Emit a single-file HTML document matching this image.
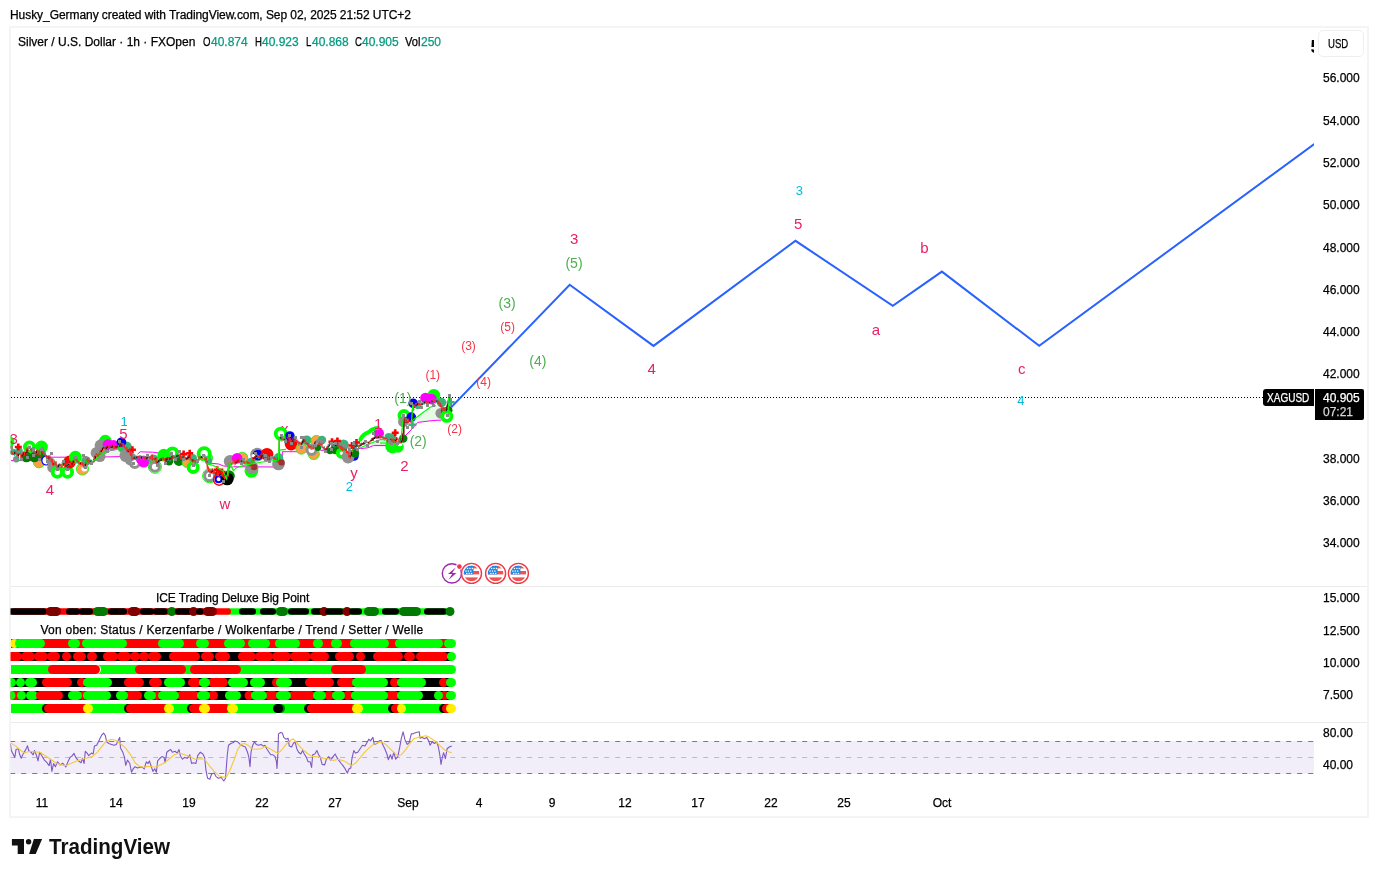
<!DOCTYPE html>
<html lang="en"><head><meta charset="utf-8"><title>Silver / U.S. Dollar chart</title>
<style>
html,body{margin:0;padding:0;background:#fff;}
body{width:1378px;height:877px;position:relative;overflow:hidden;font-family:"Liberation Sans", sans-serif;color:#000;}
.abs{position:absolute;white-space:nowrap;line-height:14px;font-size:12px;-webkit-text-stroke:0.25px currentColor;}
#frame{position:absolute;left:9px;top:26px;width:1360px;height:792px;box-sizing:border-box;border:2px solid #f4f4f4;}
.sep{position:absolute;left:11px;width:1356px;height:1px;background:#ececec;}
.ax{position:absolute;left:1323px;font-size:12px;line-height:14px;height:14px;color:#000;-webkit-text-stroke:0.25px #000;}
.tl{position:absolute;top:796.4px;width:60px;text-align:center;font-size:12px;line-height:14px;color:#000;-webkit-text-stroke:0.25px #000;}
.teal{color:#089981;}
svg{position:absolute;left:0;top:0;}
svg text{font-family:"Liberation Sans", sans-serif;}
</style></head><body>
<div class="abs" id="ttl" style="left:10px;top:7.6px;letter-spacing:-0.06px;">Husky_Germany created with TradingView.com, Sep 02, 2025 21:52 UTC+2</div>
<div id="frame"></div>
<div class="sep" style="top:586px"></div><div class="sep" style="top:722px"></div>
<div class="abs" id="leg" style="left:18px;top:34.7px;"><span id="l1">Silver / U.S. Dollar · 1h · FXOpen</span></div>
<div class="abs lg" style="left:203.0px;top:34.7px;transform:scaleX(0.8);transform-origin:0 0;">O</div><div class="abs lg teal" style="left:211.0px;top:34.7px;">40.874</div>
<div class="abs lg" style="left:254.5px;top:34.7px;transform:scaleX(0.8);transform-origin:0 0;">H</div><div class="abs lg teal" style="left:262.0px;top:34.7px;">40.923</div>
<div class="abs lg" style="left:305.5px;top:34.7px;transform:scaleX(0.8);transform-origin:0 0;">L</div><div class="abs lg teal" style="left:312.0px;top:34.7px;">40.868</div>
<div class="abs lg" style="left:354.5px;top:34.7px;transform:scaleX(0.8);transform-origin:0 0;">C</div><div class="abs lg teal" style="left:362.0px;top:34.7px;">40.905</div>
<div class="abs lg" style="left:404.5px;top:34.7px;transform:scaleX(0.93);transform-origin:0 0;">Vol</div><div class="abs lg teal" style="left:421.0px;top:34.7px;">250</div>
<div style="position:absolute;left:1318px;top:30px;width:46px;height:27px;box-sizing:border-box;border:1px solid #efefef;border-radius:5px;"></div>
<div class="abs" style="left:1327.5px;top:36.5px;transform:scaleX(.8);transform-origin:0 0;">USD</div>
<div style="position:absolute;left:1310.6px;top:36.4px;width:3.4px;height:22px;overflow:hidden;"><span style="font-size:18px;font-weight:bold;line-height:22px;color:#000;">5</span></div>
<div class="ax" style="top:71.4px">56.000</div>
<div class="ax" style="top:113.9px">54.000</div>
<div class="ax" style="top:156.4px">52.000</div>
<div class="ax" style="top:198.4px">50.000</div>
<div class="ax" style="top:240.9px">48.000</div>
<div class="ax" style="top:282.9px">46.000</div>
<div class="ax" style="top:325.4px">44.000</div>
<div class="ax" style="top:367.2px">42.000</div>
<div class="ax" style="top:452.4px">38.000</div>
<div class="ax" style="top:494.2px">36.000</div>
<div class="ax" style="top:535.9px">34.000</div>
<div class="ax" style="top:591.4px">15.000</div>
<div class="ax" style="top:623.9px">12.500</div>
<div class="ax" style="top:655.9px">10.000</div>
<div class="ax" style="top:687.9px">7.500</div>
<div class="ax" style="top:726.4px">80.00</div>
<div class="ax" style="top:758.4px">40.00</div>
<div class="tl" style="left:12px;">11</div>
<div class="tl" style="left:86px;">14</div>
<div class="tl" style="left:159px;">19</div>
<div class="tl" style="left:232px;">22</div>
<div class="tl" style="left:305px;">27</div>
<div class="tl" style="left:378px;">Sep</div>
<div class="tl" style="left:449px;">4</div>
<div class="tl" style="left:522px;">9</div>
<div class="tl" style="left:595px;">12</div>
<div class="tl" style="left:668px;">17</div>
<div class="tl" style="left:741px;">22</div>
<div class="tl" style="left:814px;">25</div>
<div class="tl" style="left:912px;">Oct</div>
<div class="abs" id="p1" style="letter-spacing:-0.08px;left:82.6px;width:300px;text-align:center;top:590.5px;">ICE Trading Deluxe Big Point</div>
<div class="abs" id="p2" style="letter-spacing:0.24px;left:32px;width:400px;text-align:center;top:622.5px;">Von oben: Status / Kerzenfarbe / Wolkenfarbe / Trend / Setter / Welle</div>
<div style="position:absolute;left:1263px;top:388.8px;width:51px;height:17px;background:#000;border-radius:3px 0 0 3px;"></div>
<div class="abs" id="sym" style="left:1267px;top:391px;color:#fff;transform:scaleX(.836);transform-origin:0 0;">XAGUSD</div>
<div style="position:absolute;left:1314.8px;top:388.8px;width:49.2px;height:31px;background:#000;border-radius:0 2px 2px 0;"></div>
<div class="abs" style="left:1323px;top:390.5px;color:#fff;">40.905</div>
<div class="abs" style="left:1323px;top:405px;color:#d8d8d8;">07:21</div>
<svg width="1378" height="877" viewBox="0 0 1378 877">
<defs><clipPath id="cp"><rect x="10.5" y="28" width="1303.5" height="790"/></clipPath></defs>
<g clip-path="url(#cp)">
<line x1="11" y1="397.5" x2="1264" y2="397.5" stroke="#000" stroke-width="1" stroke-dasharray="1 2"/>
<polygon points="98.5,461.0 104.0,457.0 119.7,456.6 121.0,455.0 121.0,448.7 112.0,450.0 103.0,453.5" fill="#e6fbe6"/>
<polygon points="225.0,466.6 274.0,467.0 278.5,460.0 262.0,462.0 244.0,465.4 236.5,467.7" fill="#e6fbe6"/>
<polygon points="360.4,448.6 368.0,447.8 373.3,445.6 387.1,445.6 387.1,439.8 381.0,439.4 376.4,441.0" fill="#e6fbe6"/>
<polygon points="411.7,429.3 417.8,422.4 433.1,420.5 441.5,420.1 441.0,408.0 436.0,405.6 430.0,407.2 411.7,420.9" fill="#e6fbe6"/>
<polygon points="206.5,463.6 223.3,471.3 226.4,478.9 229.6,462.4 230.0,466.7 218.8,464.0" fill="#e6fbe6"/>
<polyline points="11.0,460.6 48.0,460.6 50.0,457.2 66.0,457.2" fill="none" stroke="#ff00ff" stroke-width="1"/>
<polyline points="98.5,461.0 104.0,457.0 119.7,456.6 121.0,455.0" fill="none" stroke="#ff00ff" stroke-width="1"/>
<polyline points="137.5,454.2 140.2,451.8 152.5,452.2 159.0,453.0" fill="none" stroke="#ff00ff" stroke-width="1"/>
<polyline points="207.0,462.8 218.8,464.0 223.3,465.9 230.2,466.7 274.0,467.0 282.3,467.0 282.3,451.7 297.0,451.7" fill="none" stroke="#ff00ff" stroke-width="1"/>
<polyline points="320.6,450.5 345.8,447.8 360.4,448.6 368.0,447.8 373.3,445.6 387.1,445.6" fill="none" stroke="#ff00ff" stroke-width="1"/>
<polyline points="375.0,445.4 386.5,445.4" fill="none" stroke="#ff00ff" stroke-width="1"/>
<polyline points="405.6,435.4 411.7,429.3 417.8,422.4 433.1,420.5 441.5,420.1" fill="none" stroke="#ff00ff" stroke-width="1"/>
<text x="284.7" y="434" font-size="15" fill="#e91e63" text-anchor="middle">x</text>
<circle cx="8.0" cy="442.0" r="6.4" fill="#00ff00"/>
<circle cx="29.5" cy="447.0" r="4.6" fill="#fff" stroke="#00ff00" stroke-width="3.8"/>
<circle cx="41.5" cy="447.0" r="6.4" fill="#00ff00"/>
<circle cx="39.0" cy="462.3" r="5.6" fill="#ffa040" stroke="#00ff00" stroke-width="0.8"/>
<circle cx="26.5" cy="457.0" r="5.3" fill="#008000"/>
<circle cx="34.4" cy="457.0" r="5.3" fill="#008000"/>
<circle cx="41.0" cy="456.0" r="4.8" fill="#008000"/>
<circle cx="46.3" cy="460.6" r="4.4" fill="#fff" stroke="#0000ff" stroke-width="1.2"/>
<circle cx="52.5" cy="467.4" r="5.3" fill="#909090"/>
<circle cx="51.0" cy="462.0" r="4.2" fill="#909090"/>
<circle cx="57.3" cy="472.2" r="4.6" fill="#fff" stroke="#00ff00" stroke-width="3.8"/>
<circle cx="67.5" cy="472.2" r="4.6" fill="#fff" stroke="#00ff00" stroke-width="3.8"/>
<circle cx="69.6" cy="462.0" r="6.4" fill="#ff0000"/>
<circle cx="75.4" cy="457.2" r="6.4" fill="#00ff00"/>
<circle cx="82.5" cy="469.0" r="6.1" fill="#ffa040" stroke="#00ff00" stroke-width="0.8"/>
<circle cx="84.4" cy="468.6" r="3.0" fill="#ffffff"/>
<circle cx="16.2" cy="459.2" r="3.2" fill="#3cb27a"/>
<circle cx="19.0" cy="451.0" r="3.7" fill="#3cb27a"/>
<circle cx="13.0" cy="452.0" r="3.2" fill="#3cb27a"/>
<circle cx="86.0" cy="461.0" r="4.8" fill="#3cb27a"/>
<circle cx="105.3" cy="441.2" r="6.4" fill="#00ff00"/>
<circle cx="96.4" cy="452.9" r="5.8" fill="#909090"/>
<circle cx="99.8" cy="456.3" r="5.8" fill="#909090"/>
<circle cx="100.5" cy="445.3" r="5.8" fill="#909090"/>
<circle cx="103.3" cy="448.7" r="5.8" fill="#909090"/>
<circle cx="108.0" cy="444.6" r="5.3" fill="#ff00ff"/>
<circle cx="113.5" cy="445.3" r="5.3" fill="#ff00ff"/>
<circle cx="126.5" cy="446.7" r="5.3" fill="#3cb27a"/>
<circle cx="121.7" cy="448.0" r="4.2" fill="#3cb27a"/>
<circle cx="121.4" cy="442.2" r="4.8" fill="#0000ff"/>
<circle cx="125.9" cy="455.6" r="6.4" fill="#909090"/>
<circle cx="130.6" cy="459.0" r="6.4" fill="#909090"/>
<circle cx="134.8" cy="463.1" r="4.5" fill="#fff" stroke="#909090" stroke-width="3"/>
<circle cx="143.7" cy="461.8" r="5.8" fill="#ff00ff"/>
<circle cx="140.2" cy="459.7" r="4.2" fill="#ff00ff"/>
<circle cx="153.6" cy="459.7" r="5.3" fill="#3cb27a"/>
<circle cx="154.9" cy="466.8" r="4.5" fill="#fff" stroke="#909090" stroke-width="3"/>
<circle cx="154.9" cy="466.8" r="6.5" fill="none" stroke="#00ff00" stroke-width="1"/>
<circle cx="163.8" cy="455.2" r="6.4" fill="#00ff00"/>
<circle cx="172.5" cy="452.9" r="4.6" fill="#fff" stroke="#00ff00" stroke-width="3.8"/>
<circle cx="169.1" cy="461.3" r="4.2" fill="#008000"/>
<circle cx="179.0" cy="460.6" r="5.3" fill="#008000"/>
<circle cx="186.7" cy="462.8" r="4.6" fill="#ffa040" stroke="#00ff00" stroke-width="0.8"/>
<circle cx="192.8" cy="458.3" r="4.2" fill="#3cb27a"/>
<circle cx="193.2" cy="467.4" r="4.6" fill="#fff" stroke="#00ff00" stroke-width="3.8"/>
<circle cx="208.5" cy="458.0" r="4.1" fill="#ffa040" stroke="#00ff00" stroke-width="0.8"/>
<circle cx="208.5" cy="461.0" r="3.7" fill="#3cb27a"/>
<circle cx="204.2" cy="453.7" r="5.6" fill="#fff" stroke="#00ff00" stroke-width="3.8"/>
<circle cx="209.6" cy="475.8" r="5.0" fill="#fff" stroke="#909090" stroke-width="3"/>
<circle cx="209.6" cy="475.8" r="7.0" fill="none" stroke="#00ff00" stroke-width="1"/>
<circle cx="220.3" cy="475.0" r="5.3" fill="#ff0000"/>
<circle cx="219.1" cy="479.7" r="5.5" fill="#fff" stroke="#ff0000" stroke-width="1.5"/>
<circle cx="218.6" cy="479.2" r="3.0" fill="#fff" stroke="#0000ff" stroke-width="2"/>
<circle cx="229.0" cy="476.0" r="5.8" fill="#008000"/>
<circle cx="227.2" cy="478.9" r="6.4" fill="#000000"/>
<circle cx="242.2" cy="457.8" r="5.6" fill="#ffa040" stroke="#00ff00" stroke-width="0.8"/>
<circle cx="230.2" cy="461.3" r="6.4" fill="#909090"/>
<circle cx="232.5" cy="464.0" r="2.5" fill="#ffffff"/>
<circle cx="237.1" cy="458.3" r="5.3" fill="#ff00ff"/>
<circle cx="251.4" cy="470.8" r="6.9" fill="#00ff00"/>
<circle cx="252.1" cy="467.7" r="6.4" fill="#909090"/>
<circle cx="251.0" cy="462.0" r="4.2" fill="#3cb27a"/>
<circle cx="254.0" cy="467.0" r="3.2" fill="#a03030"/>
<circle cx="257.1" cy="454.7" r="6.9" fill="#909090"/>
<circle cx="258.0" cy="455.0" r="5.3" fill="#0000ff"/>
<circle cx="253.5" cy="456.0" r="2.0" fill="#ffffff"/>
<circle cx="267.0" cy="454.3" r="6.4" fill="#ff0000"/>
<circle cx="278.5" cy="463.9" r="6.4" fill="#909090"/>
<circle cx="278.5" cy="457.8" r="4.8" fill="#3cb27a"/>
<circle cx="281.5" cy="462.4" r="3.2" fill="#a03030"/>
<circle cx="280.8" cy="433.7" r="5.1" fill="#fff" stroke="#00ff00" stroke-width="3.8"/>
<circle cx="291.1" cy="444.0" r="6.4" fill="#ff0000"/>
<circle cx="289.9" cy="436.0" r="4.8" fill="#0000ff"/>
<circle cx="301.4" cy="448.6" r="5.6" fill="#ffa040" stroke="#00ff00" stroke-width="0.8"/>
<circle cx="306.7" cy="440.2" r="4.8" fill="#3cb27a"/>
<circle cx="316.4" cy="441.0" r="5.6" fill="#ffa040" stroke="#00ff00" stroke-width="0.8"/>
<circle cx="313.8" cy="454.0" r="5.6" fill="#ffa040" stroke="#00ff00" stroke-width="0.8"/>
<circle cx="311.5" cy="450.1" r="4.5" fill="#fff" stroke="#909090" stroke-width="3"/>
<circle cx="322.0" cy="440.0" r="4.2" fill="#3cb27a"/>
<circle cx="318.0" cy="447.8" r="3.2" fill="#008000"/>
<circle cx="335.0" cy="449.4" r="4.8" fill="#008000"/>
<circle cx="330.0" cy="451.0" r="3.2" fill="#008000"/>
<circle cx="343.5" cy="444.8" r="5.3" fill="#3cb27a"/>
<circle cx="341.3" cy="453.2" r="3.6" fill="#fff" stroke="#00ff00" stroke-width="3.8"/>
<circle cx="354.0" cy="456.0" r="4.8" fill="#0000ff"/>
<circle cx="348.1" cy="457.0" r="6.4" fill="#909090"/>
<circle cx="355.0" cy="453.2" r="4.2" fill="#008000"/>
<circle cx="378.7" cy="433.3" r="5.3" fill="#ff00ff"/>
<circle cx="392.6" cy="446.1" r="7.4" fill="#00ff00"/>
<circle cx="398.0" cy="447.0" r="5.8" fill="#00ff00"/>
<circle cx="400.0" cy="443.8" r="2.5" fill="#ffffff"/>
<circle cx="388.6" cy="437.2" r="4.2" fill="#3cb27a"/>
<circle cx="392.0" cy="437.7" r="4.2" fill="#3cb27a"/>
<circle cx="403.3" cy="438.5" r="4.2" fill="#008000"/>
<circle cx="404.0" cy="415.6" r="4.6" fill="#fff" stroke="#00ff00" stroke-width="3.8"/>
<circle cx="403.3" cy="421.7" r="5.3" fill="#909090"/>
<circle cx="406.0" cy="420.0" r="3.2" fill="#a03030"/>
<circle cx="411.3" cy="417.1" r="4.8" fill="#0000ff"/>
<circle cx="413.2" cy="403.3" r="4.8" fill="#0000ff"/>
<circle cx="433.8" cy="395.3" r="6.4" fill="#00ff00"/>
<circle cx="425.4" cy="398.0" r="5.3" fill="#ff00ff"/>
<circle cx="431.5" cy="399.1" r="5.3" fill="#ff00ff"/>
<circle cx="441.5" cy="402.6" r="4.8" fill="#3cb27a"/>
<circle cx="418.0" cy="406.0" r="3.2" fill="#3cb27a"/>
<circle cx="440.7" cy="413.3" r="5.3" fill="#909090"/>
<circle cx="444.0" cy="411.0" r="3.2" fill="#a03030"/>
<circle cx="448.3" cy="410.2" r="4.2" fill="#008000"/>
<circle cx="446.8" cy="416.3" r="4.6" fill="#fff" stroke="#00ff00" stroke-width="3.8"/>
<path d="M360.4 439.5 Q363 434 369 432 Q373 428 378 428" fill="none" stroke="#00ff00" stroke-width="4" stroke-linecap="round"/>
<path d="M14.8 447.0h7M18.3 443.5v7" stroke="#ff0000" stroke-width="2.6"/>
<path d="M128.9 449.8h7M132.4 446.3v7" stroke="#ff0000" stroke-width="2.6"/>
<path d="M180.1 454.1h7M183.6 450.6v7" stroke="#ff0000" stroke-width="2.6"/>
<path d="M186.2 453.3h7M189.7 449.8v7" stroke="#ff0000" stroke-width="2.6"/>
<path d="M213.7 469.7h7M217.2 466.2v7" stroke="#ff0000" stroke-width="2.6"/>
<path d="M328.5 441.7h7M332.0 438.2v7" stroke="#ff0000" stroke-width="2.6"/>
<path d="M333.9 441.0h7M337.4 437.5v7" stroke="#ff0000" stroke-width="2.6"/>
<path d="M353.0 442.5h7M356.5 439.0v7" stroke="#ff0000" stroke-width="2.6"/>
<path d="M348.5 445.5h7M352.0 442.0v7" stroke="#ff0000" stroke-width="2.6"/>
<path d="M391.7 432.7h7M395.2 429.2v7" stroke="#ff0000" stroke-width="2.6"/>
<path d="M218.5 472.0h7M222.0 468.5v7" stroke="#ff0000" stroke-width="2.6"/>
<path d="M11.0 451.0V454.0M14.7 449.7V456.1M15.9 451.2V455.2M17.1 452.7V456.9M19.5 453.0V454.6M25.6 452.6V454.6M34.2 447.0V452.9M37.8 449.3V454.1M43.9 449.4V454.9M45.2 451.4V456.8M46.4 454.8V459.8M47.6 456.3V459.4M51.3 457.1V463.0M56.1 461.1V466.4M57.4 464.4V468.8M58.6 463.8V469.3M65.9 465.1V468.4M67.1 463.4V466.6M68.3 462.7V465.4M76.9 457.8V463.3M79.3 461.6V464.7M90.3 459.8V463.5M92.7 461.0V463.5M101.3 447.9V453.9M103.7 446.7V448.3M104.9 445.7V449.9M107.4 445.3V447.8M108.6 445.8V448.1M111.0 446.0V449.4M119.6 443.2V446.3M123.2 443.0V447.0M126.9 446.2V453.0M131.8 451.9V460.0M133.0 457.5V460.5M134.2 455.9V459.0M136.7 455.5V460.3M137.9 456.0V458.6M140.3 455.4V459.8M141.5 456.2V459.3M142.8 455.7V458.0M144.0 455.5V460.3M147.6 456.2V458.1M148.9 455.7V458.1M153.7 458.5V460.3M157.4 460.6V463.3M158.6 460.2V463.6M159.8 458.1V462.2M163.5 457.2V460.5M167.2 457.7V460.6M168.4 457.7V460.4M170.8 455.6V461.2M174.5 456.3V459.5M176.9 454.2V458.3M178.1 454.8V457.7M181.8 455.9V459.6M183.0 455.5V459.1M185.5 456.7V459.8M191.6 457.9V461.7M194.0 458.6V462.0M195.2 460.0V463.9M197.7 459.0V461.8M201.3 456.2V458.5M206.2 456.0V462.1M219.6 474.2V477.6M220.8 473.6V475.7M226.9 475.6V479.3M235.5 462.0V464.6M240.4 459.6V463.8M241.6 460.2V462.3M247.7 461.8V464.5M251.3 462.5V467.6M258.7 454.9V459.0M262.3 454.1V456.4M263.5 453.1V456.5M267.2 455.5V458.5M268.4 456.5V459.5M273.3 456.6V459.9M274.5 456.4V459.7M277.0 458.7V463.0M280.6 435.2V439.8M281.8 435.2V441.5M284.3 438.6V440.5M291.6 440.3V443.4M294.0 436.6V441.4M295.3 436.6V441.5M297.7 439.5V443.6M298.9 441.1V445.9M301.4 441.3V445.5M302.6 440.3V444.8M305.0 438.5V442.5M306.2 441.0V445.6M309.9 444.0V448.9M314.8 441.2V448.1M316.0 440.5V443.2M319.7 441.2V444.5M320.9 442.0V446.8M323.3 446.6V449.8M324.5 446.3V450.0M328.2 443.8V448.5M330.6 441.4V445.1M333.1 443.4V447.1M334.3 444.6V447.2M335.5 444.2V447.2M338.0 442.6V447.4M339.2 445.4V447.1M344.1 446.9V450.5M345.3 448.0V451.3M353.8 446.7V449.8M355.0 444.0V449.2M356.3 444.3V448.0M359.9 443.6V447.8M361.1 442.5V446.1M363.6 441.7V444.8M364.8 440.6V444.7M368.5 441.5V444.6M370.9 439.6V442.3M377.0 435.9V439.0M378.2 434.6V438.5M381.9 435.5V437.9M383.1 435.4V440.1M384.3 437.6V440.7M399.0 438.5V443.9M400.2 440.4V443.6M401.4 439.1V443.6M405.1 417.7V422.1M406.3 418.1V421.2M409.9 420.1V421.7M416.0 402.9V407.1M420.9 402.4V406.5M422.1 401.9V405.5M424.6 400.5V404.6M427.0 401.8V404.5M429.5 399.5V403.8M430.7 401.0V402.2M431.9 399.1V403.2M434.3 398.5V401.8M435.6 398.8V403.6M436.8 399.2V402.6M442.9 407.0V410.4M445.3 408.1V412.2M446.5 405.3V411.7M449.0 396.6V402.5" stroke="#26a69a" stroke-width="1.05" fill="none"/>
<path d="M11.0 451.4V452.6M12.2 451.5V454.3M12.2 452.0V453.8M13.4 453.3V455.1M13.4 453.2V454.7M15.9 451.7V453.2M17.1 453.2V455.9M18.3 453.5V457.9M19.5 453.4V454.7M20.8 453.1V458.0M20.8 454.1V456.5M22.0 454.1V458.0M23.2 451.3V455.1M24.4 451.3V455.6M24.4 452.3V454.1M26.9 447.4V455.1M28.1 445.4V451.4M29.3 445.8V448.4M30.5 445.8V450.3M30.5 446.8V449.8M31.7 447.8V451.8M31.7 449.2V450.9M33.0 447.5V450.8M34.2 449.0V451.9M35.4 450.9V455.2M35.4 451.9V453.2M36.6 450.3V454.7M37.8 450.8V452.1M39.1 450.1V455.3M39.1 452.1V454.8M40.3 449.0V456.8M41.5 448.5V451.0M42.7 447.5V453.4M42.7 449.0V451.4M43.9 451.4V453.4M45.2 453.4V455.3M46.4 455.3V457.8M47.6 457.2V459.0M48.8 455.2V460.4M50.0 455.2V459.6M50.0 457.2V459.1M51.3 459.1V461.5M52.5 459.5V465.5M52.5 461.5V464.0M53.7 462.5V466.0M54.9 461.1V464.5M56.1 462.1V465.4M57.4 465.4V467.3M59.8 463.3V465.8M61.0 464.3V468.0M61.0 464.2V466.6M62.2 462.1V468.0M63.5 463.4V466.1M64.7 463.4V467.4M64.7 463.9V466.4M69.6 463.1V464.2M70.8 461.6V465.8M70.8 463.6V464.8M72.0 461.5V466.3M73.2 460.2V465.0M74.4 456.8V462.7M75.7 458.3V460.3M75.7 458.2V459.9M76.9 459.3V461.8M78.1 460.8V463.6M78.1 461.8V463.1M79.3 462.5V464.3M80.5 462.0V465.2M81.8 462.0V465.0M81.8 461.9V464.1M83.0 462.5V467.5M83.0 463.5V466.0M84.2 464.5V468.2M84.2 466.0V467.2M85.4 462.8V468.2M86.6 458.3V464.8M87.9 457.8V462.2M87.9 459.3V461.7M89.1 460.0V463.7M91.5 459.8V464.0M91.5 461.3V462.5M94.0 457.6V462.5M95.2 455.6V461.1M96.4 452.9V456.6M97.6 453.9V457.6M97.6 454.4V455.6M98.8 453.3V457.6M100.1 449.9V455.8M102.5 447.3V450.9M104.9 447.7V448.9M106.2 445.3V450.4M108.6 445.7V447.7M109.8 446.1V448.9M109.8 446.5V448.5M112.3 444.6V448.5M113.5 445.1V447.0M113.5 445.5V447.1M114.7 445.0V448.9M114.7 445.9V447.5M115.9 444.7V447.9M117.1 445.8V448.7M118.4 445.3V447.3M120.8 441.9V447.2M122.0 442.9V445.0M122.0 442.8V445.1M123.2 444.5V446.5M124.5 444.5V448.3M124.5 446.5V447.8M125.7 446.7V449.8M126.9 447.2V451.5M128.1 448.9V452.5M129.3 449.4V452.7M129.3 450.3V452.3M130.6 450.7V455.9M130.6 451.7V453.9M131.8 453.9V458.5M133.0 457.9V459.1M135.4 456.4V459.8M135.4 456.8V458.9M137.9 455.9V457.2M139.1 455.6V458.4M139.1 456.0V458.0M140.3 456.8V458.4M142.8 456.6V458.1M144.0 456.9V458.9M145.2 456.3V460.3M145.2 457.7V459.4M146.4 456.1V459.3M148.9 456.6V458.2M150.1 456.6V459.3M150.1 457.0V458.4M151.3 454.6V459.3M152.5 454.6V460.5M152.5 456.6V459.0M153.7 458.4V459.9M155.0 457.5V460.8M156.2 457.5V464.3M156.2 458.0V462.8M161.1 458.4V461.1M162.3 457.2V460.4M163.5 457.6V459.6M164.7 458.0V461.3M164.7 458.4V460.4M165.9 458.1V461.3M168.4 458.2V459.4M169.6 458.2V461.4M172.0 454.0V459.1M173.3 455.0V458.8M173.3 456.0V457.3M174.5 456.7V458.1M175.7 455.8V458.5M179.4 453.8V456.5M179.4 454.7V456.1M180.6 455.0V459.4M180.6 455.5V457.4M181.8 456.8V458.2M184.2 455.5V459.2M184.2 457.0V458.2M185.5 457.6V459.4M186.7 457.7V460.3M187.9 455.1V459.7M189.1 455.1V458.1M190.3 455.6V458.9M190.3 456.1V458.4M191.6 458.4V460.7M192.8 459.6V462.7M194.0 459.5V461.6M195.2 460.4V462.5M196.4 459.3V462.9M198.9 456.2V461.0M200.1 457.0V459.2M202.5 455.0V458.7M203.8 455.0V456.3M203.8 454.9V456.4M205.0 454.8V460.0M205.0 455.8V458.0M206.2 458.0V461.6M207.4 461.1V469.1M207.4 461.6V468.6M208.6 466.6V472.0M208.6 468.6V470.5M209.9 469.0V473.7M209.9 470.5V472.7M211.1 470.4V473.7M212.3 468.3V473.4M213.5 469.8V473.8M213.5 470.3V471.8M214.7 470.3V474.1M214.7 471.8V473.6M216.0 472.0V474.1M217.2 471.5V476.3M217.2 473.0V474.8M218.4 473.3V476.6M218.4 474.2V476.2M222.1 472.6V476.6M222.1 473.5V475.7M223.3 473.1V477.4M223.3 475.1V476.9M224.5 475.9V479.5M224.5 476.3V478.6M225.7 475.3V478.5M228.2 466.9V477.1M229.4 462.2V469.4M230.6 462.2V465.3M230.6 462.6V464.4M231.8 462.2V465.3M233.0 460.5V464.2M234.3 460.0V464.6M234.3 461.4V463.2M236.7 459.3V464.0M237.9 458.1V462.8M239.1 459.6V462.6M239.1 459.5V461.7M240.4 460.5V462.4M242.8 459.7V463.0M242.8 460.6V462.1M244.0 459.5V464.3M244.0 460.9V462.9M245.2 461.8V464.4M245.2 461.7V463.5M246.5 460.8V463.4M247.7 461.7V463.6M248.9 462.0V465.8M248.9 463.0V464.8M250.1 462.8V467.1M250.1 464.2V466.2M252.6 456.9V465.0M253.8 457.1V460.9M255.0 456.0V459.1M256.2 454.2V458.0M257.4 453.7V457.9M257.4 455.2V456.4M258.7 455.8V457.6M259.9 455.5V459.0M259.9 456.4V457.6M261.1 453.9V457.5M263.5 454.5V456.1M264.8 454.0V457.9M264.8 454.9V456.5M266.0 454.9V458.0M266.0 455.3V457.6M267.2 456.4V458.6M268.4 457.4V458.6M269.6 457.0V458.5M269.6 457.4V458.6M270.9 455.6V460.0M272.1 456.1V459.6M273.3 456.5V458.5M274.5 457.3V459.3M275.7 457.7V460.2M275.7 458.1V460.3M277.0 459.7V461.0M278.2 456.5V463.0M279.4 437.3V459.5M281.8 437.2V439.5M283.1 438.5V440.5M283.1 438.9V440.6M285.5 435.7V440.1M286.7 436.9V438.2M287.9 436.4V438.5M287.9 436.8V438.6M289.2 436.5V441.3M289.2 438.0V440.3M290.4 438.3V442.9M290.4 440.3V442.4M292.8 438.4V442.3M295.3 438.1V440.5M296.5 439.5V442.5M296.5 439.9V442.1M297.7 440.9V442.7M298.9 442.1V443.9M300.1 441.9V444.5M300.1 443.3V444.6M303.8 438.5V442.8M305.0 440.0V442.0M306.2 442.0V444.1M307.5 443.1V445.7M307.5 443.5V445.3M308.7 443.2V447.5M308.7 444.7V446.0M309.9 446.0V447.9M311.1 445.4V449.9M312.3 446.9V449.0M312.3 446.8V448.6M313.6 445.6V449.0M317.2 439.5V441.8M317.2 440.4V441.9M318.4 440.3V444.7M318.4 441.3V443.2M319.7 442.6V444.6M320.9 444.0V445.3M322.1 443.3V448.1M322.1 445.3V447.1M323.3 447.1V448.3M324.5 448.3V449.5M325.8 448.2V451.5M327.0 446.0V451.2M329.4 442.6V446.8M331.9 442.4V445.9M331.9 442.8V444.5M333.1 443.9V445.1M334.3 444.5V446.3M336.7 442.6V445.2M338.0 444.1V445.9M339.2 445.3V447.2M340.4 446.1V449.4M340.4 446.0V448.0M341.6 445.4V450.3M341.6 446.8V448.9M342.8 446.3V450.9M342.8 447.7V449.5M344.1 448.3V450.1M345.3 448.9V450.9M346.5 448.8V453.0M346.5 450.3V451.5M347.7 451.0V453.7M347.7 451.5V452.7M348.9 451.7V457.8M348.9 452.7V456.8M350.2 455.0V458.8M351.4 450.4V456.5M352.6 448.3V452.4M357.5 444.3V447.0M357.5 445.3V446.5M358.7 444.8V448.0M362.4 442.8V445.0M366.0 441.0V443.1M367.2 441.5V443.1M367.2 441.4V443.2M369.7 440.8V444.0M372.1 437.9V440.6M373.3 437.3V440.9M374.6 436.9V438.8M375.8 435.9V438.4M377.0 436.8V438.6M379.4 435.1V437.2M379.4 435.5V437.3M380.7 434.7V438.5M380.7 436.1V437.6M381.9 436.4V438.0M383.1 436.8V438.7M384.3 437.5V439.3M385.5 437.7V440.0M385.5 438.1V440.1M386.8 437.5V442.3M386.8 439.5V440.8M388.0 439.3V443.5M388.0 440.8V442.0M389.2 440.3V443.5M390.4 438.5V442.8M391.6 438.5V441.6M391.6 439.4V441.2M392.9 438.6V442.9M392.9 440.6V441.9M394.1 438.9V442.9M395.3 439.2V442.9M396.5 437.0V441.7M397.7 437.5V440.0M397.7 437.9V440.1M399.0 439.5V441.9M400.2 441.3V443.2M402.6 433.3V441.1M403.8 417.2V435.3M405.1 418.2V420.1M406.3 419.5V421.3M407.5 418.5V421.7M408.7 418.5V423.2M408.7 419.5V421.2M411.2 420.1V423.6M411.2 420.5V422.2M412.4 409.2V422.6M413.6 404.2V410.7M414.8 404.7V407.1M414.8 404.6V406.2M417.3 401.5V405.9M418.5 401.5V405.0M418.5 402.4V403.6M419.7 402.0V404.9M419.7 403.0V404.4M420.9 403.8V405.1M423.4 400.6V404.4M425.8 400.0V403.3M425.8 401.4V403.4M427.0 402.2V404.6M428.2 401.3V404.5M430.7 400.9V402.3M433.1 399.0V402.1M434.3 399.4V400.9M435.6 400.3V401.6M438.0 400.2V404.0M438.0 401.2V402.5M439.2 401.5V405.2M439.2 402.5V404.2M440.4 402.7V407.2M440.4 404.2V405.7M441.7 404.7V409.0M441.7 405.7V407.5M442.9 407.5V408.9M444.1 406.9V410.6M444.1 408.9V410.1M445.3 409.5V411.3M447.8 400.5V408.8M450.2 395.6V401.3M450.2 397.1V399.8M451.4 398.3V407.5M451.4 399.8V407.0" stroke="#ff1f1f" stroke-width="1.05" fill="none"/>
<path d="M28.1 447.4V449.4M40.3 450.5V454.8M54.9 462.1V464.0M62.2 464.1V466.0M69.6 463.0V464.3M74.4 458.8V460.7M86.6 459.3V463.8M89.1 460.9V462.3M96.4 454.4V456.1M98.8 454.3V455.6M100.1 451.9V454.3M118.4 445.2V446.9M125.7 446.6V448.4M151.3 456.6V457.8M162.3 457.6V459.5M175.7 456.3V457.5M196.4 460.7V462.5M198.9 458.2V460.0M200.1 456.9V458.8M225.7 476.7V478.6M228.2 468.9V476.1M229.4 463.2V468.9M231.8 462.6V464.4M233.0 461.4V463.8M246.5 461.7V463.5M252.6 458.9V464.0M279.4 437.8V458.5M285.5 437.7V439.6M311.1 446.8V448.5M313.6 446.1V448.0M352.6 448.8V451.9M358.7 445.7V447.1M366.0 441.4V443.2M369.7 441.3V442.5M394.1 440.3V442.5M407.5 419.5V420.7M413.6 405.2V410.2M423.4 402.6V403.9M428.2 402.8V404.0M433.1 399.4V401.7" stroke="#00e000" stroke-width="1.05" fill="none"/>
<path d="M14.7 451.7V454.1M18.3 454.0V455.9M22.0 454.6V456.5M23.2 452.3V454.6M25.6 452.5V454.7M26.9 449.4V453.1M29.3 446.1V448.0M33.0 449.0V450.3M36.6 450.8V453.2M41.5 449.0V450.5M48.8 457.2V458.4M53.7 463.4V464.6M58.6 464.8V467.3M59.8 464.2V465.4M63.5 463.3V464.7M65.9 465.5V467.0M67.1 464.9V466.1M68.3 463.7V464.9M72.0 463.0V464.8M73.2 460.7V463.0M80.5 462.5V463.7M85.4 463.8V467.2M90.3 460.7V462.1M92.7 460.9V463.1M94.0 459.1V461.5M95.2 456.1V459.1M101.3 449.9V451.9M102.5 447.8V449.9M103.7 447.1V448.4M106.2 447.3V448.9M107.4 445.7V447.9M111.0 446.4V448.5M112.3 445.5V447.6M115.9 446.1V447.5M117.1 445.7V447.3M119.6 444.6V446.4M120.8 443.4V445.2M128.1 450.3V452.1M134.2 456.8V459.1M136.7 456.5V458.3M141.5 456.6V458.4M146.4 457.6V458.8M147.6 456.6V458.2M155.0 458.0V459.3M157.4 461.6V462.8M158.6 460.1V462.2M159.8 459.5V461.3M161.1 458.3V460.7M165.9 458.5V460.4M167.2 457.6V459.7M169.6 458.6V460.0M170.8 457.6V459.2M172.0 456.0V457.6M176.9 455.1V456.9M178.1 454.7V456.3M183.0 456.4V458.2M186.7 457.6V459.4M187.9 456.5V458.8M189.1 455.5V457.7M192.8 459.5V461.3M197.7 460.0V461.3M201.3 456.1V458.1M202.5 455.5V456.7M211.1 471.4V472.7M212.3 469.7V472.0M216.0 472.4V474.2M219.6 474.1V476.2M220.8 473.5V475.3M226.9 476.1V477.3M235.5 461.9V463.2M236.7 461.3V462.5M237.9 460.1V461.3M241.6 460.6V462.4M251.3 464.0V465.6M253.8 457.6V458.9M255.0 456.4V458.2M256.2 455.2V457.0M261.1 455.3V457.6M262.3 454.5V456.5M270.9 457.0V458.6M272.1 456.5V458.2M278.2 458.5V461.0M280.6 436.6V438.4M284.3 439.0V440.6M286.7 436.8V438.3M291.6 441.2V443.0M292.8 439.4V441.8M294.0 438.1V439.4M301.4 442.7V444.6M302.6 440.8V443.3M303.8 439.4V441.4M314.8 442.2V446.1M316.0 441.0V442.2M325.8 448.6V450.1M327.0 447.5V449.2M328.2 445.8V447.5M329.4 444.6V445.8M330.6 443.4V444.6M335.5 444.1V446.3M336.7 443.5V445.3M350.2 455.5V456.8M351.4 451.9V455.5M353.8 447.2V448.8M355.0 446.0V447.2M356.3 444.7V446.6M359.9 445.1V446.3M361.1 443.4V445.7M362.4 443.2V444.6M363.6 442.6V444.4M364.8 442.0V443.8M368.5 441.9V443.2M370.9 440.1V441.3M372.1 438.3V440.7M373.3 437.7V439.5M374.6 436.8V438.9M375.8 436.8V438.0M378.2 436.1V438.0M389.2 440.2V442.6M390.4 439.4V441.4M395.3 439.7V440.9M396.5 438.5V439.7M401.4 440.6V442.6M402.6 433.8V440.6M403.8 418.2V433.8M409.9 420.5V421.8M412.4 410.2V421.6M416.0 404.3V406.2M417.3 403.0V404.9M422.1 403.3V405.1M424.6 401.4V403.2M429.5 401.5V402.8M431.9 400.5V402.3M436.8 400.6V402.2M446.5 406.8V410.7M447.8 401.0V406.8M449.0 397.1V401.0" stroke="#000000" stroke-width="1.05" fill="none"/>
<polyline points="11.0,452.0 13.0,455.0 15.0,451.0 17.0,456.0 19.0,453.0 21.0,457.0 23.0,452.0 25.0,455.0 27.0,449.0 29.0,446.0 31.0,451.0 33.0,449.0 35.0,454.0 37.0,450.0 39.0,455.0 41.0,448.0 43.0,452.0 45.0,455.0 47.0,459.0 49.0,457.0 51.0,461.0 53.0,465.0 55.0,462.0 57.0,468.0 59.0,464.0 61.0,466.0 63.0,463.0 65.0,467.0 67.0,465.0 69.0,463.0 71.0,465.0 73.0,461.0 75.0,458.0 77.0,462.0 79.0,464.0 81.0,462.0 83.0,466.0 85.0,468.0 86.0,458.0 88.0,462.0 90.0,461.0 92.0,463.0 94.0,459.0 96.0,454.0 98.0,456.0 100.0,452.0 103.0,447.0 105.0,449.0 107.0,446.0 110.0,448.0 112.0,446.0 115.0,447.0 118.0,446.0 120.0,445.0 121.0,443.0 123.0,446.0 124.0,448.0 126.0,447.0 127.0,452.0 129.0,450.0 130.0,455.0 131.0,453.0 132.0,460.0 134.0,457.0 135.0,459.0 137.0,456.0 140.0,458.0 142.0,457.0 145.0,459.0 147.0,457.0 150.0,458.0 151.0,456.0 153.0,460.0 155.0,458.0 156.0,463.0 158.0,461.0 160.0,460.0 162.0,458.0 165.0,460.0 167.0,458.0 169.0,460.0 172.0,456.0 174.0,458.0 176.0,456.0 179.0,455.0 181.0,458.0 183.0,457.0 185.0,459.0 187.0,458.0 189.0,456.0 190.0,457.0 191.0,461.0 193.0,460.0 195.0,462.0 197.0,461.0 199.0,458.0 201.0,457.0 203.0,455.0 204.0,456.0 206.0,460.0 207.0,468.0 209.0,471.0 210.0,473.0 212.0,470.0 213.0,471.0 215.0,474.0 216.0,473.0 218.0,476.0 219.0,475.0 221.0,474.0 222.0,475.0 224.0,478.0 225.0,478.0 227.0,476.0 228.0,470.0 229.0,463.0 231.0,464.0 233.0,462.0 235.0,463.0 237.0,461.0 238.0,460.0 240.0,462.0 242.0,461.0 245.0,463.0 247.0,462.0 249.0,465.0 251.0,466.0 252.0,460.0 253.0,458.0 255.0,457.0 256.0,455.0 258.0,457.0 260.0,457.0 262.0,455.0 265.0,456.0 267.0,458.0 270.0,458.0 272.0,457.0 275.0,459.0 277.0,461.0 278.0,463.0 279.0,438.0 281.0,437.0 282.0,440.0 284.0,440.0 286.0,437.0 288.0,438.0 290.0,442.0 291.0,443.0 293.0,439.0 294.0,438.0 296.0,442.0 297.0,441.0 299.0,444.0 301.0,444.0 303.0,440.0 304.0,440.0 306.0,444.0 308.0,445.0 310.0,448.0 312.0,447.0 313.0,450.0 314.0,443.0 316.0,441.0 317.0,441.0 319.0,444.0 320.0,444.0 322.0,447.0 323.0,448.0 325.0,450.0 326.0,449.0 328.0,446.0 329.0,445.0 331.0,443.0 332.0,444.0 334.0,446.0 335.0,445.0 337.0,444.0 338.0,446.0 340.0,447.0 341.0,448.0 343.0,449.0 345.0,450.0 347.0,452.0 348.0,453.0 349.0,457.0 350.0,456.0 352.0,450.0 353.0,448.0 355.0,446.0 356.0,445.0 358.0,447.0 359.0,446.0 361.0,444.0 362.0,444.0 364.0,443.0 366.0,442.0 368.0,443.0 369.0,442.0 371.0,440.0 372.0,439.0 374.0,438.0 375.0,437.0 377.0,438.0 378.0,436.0 380.0,437.0 381.0,437.0 383.0,438.0 385.0,439.0 387.0,441.0 388.0,442.0 390.0,440.0 391.0,440.0 393.0,442.0 394.0,441.0 396.0,439.0 397.0,438.0 399.0,442.0 400.0,443.0 401.0,441.0 402.0,440.0 403.0,430.0 404.0,416.0 405.0,420.0 406.0,421.0 408.0,419.0 409.0,422.0 410.0,421.0 411.0,423.0 412.0,414.0 413.0,404.0 414.0,406.0 416.0,405.0 417.0,403.0 419.0,403.0 420.0,405.0 422.0,404.0 424.0,402.0 425.0,402.0 427.0,404.0 428.0,403.0 430.0,401.0 431.0,402.0 433.0,400.0 434.0,400.0 436.0,402.0 437.0,401.0 439.0,404.0 440.0,405.0 442.0,408.0 443.0,409.0 445.0,411.0 446.0,410.0 447.0,404.0 448.0,400.0 449.0,397.0 450.0,398.0 451.0,407.0" fill="none" stroke="#ff2a2a" stroke-width="1" stroke-linejoin="round" opacity=".45"/>
<polyline points="90.3,463.0 96.0,459.0 103.0,453.5 112.0,450.0 121.0,448.7" fill="none" stroke="#00ff00" stroke-width="1.2"/>
<polyline points="206.5,463.6 213.4,465.5 223.3,471.3 226.4,478.9 229.6,462.4 233.4,470.8 236.5,467.7 244.0,465.4 262.0,462.0 278.5,460.0 279.2,437.9" fill="none" stroke="#00ff00" stroke-width="1.2"/>
<polyline points="279.2,450.1 286.0,449.4" fill="none" stroke="#00ff00" stroke-width="1.2"/>
<polyline points="360.4,447.8 376.4,441.0 381.0,439.4 387.1,439.8" fill="none" stroke="#00ff00" stroke-width="1.2"/>
<polyline points="401.0,438.5 403.6,415.6" fill="none" stroke="#00ff00" stroke-width="1.2"/>
<polyline points="411.7,420.9 412.8,404.1" fill="none" stroke="#00ff00" stroke-width="1.2"/>
<polyline points="411.7,420.9 430.0,407.2 436.0,405.6" fill="none" stroke="#00ff00" stroke-width="1.2"/>
<polyline points="380.0,443.0 390.0,443.0" fill="none" stroke="#00ff00" stroke-width="1.2"/>
<polyline points="448.5,398.0 448.5,411.0" fill="none" stroke="#00ff00" stroke-width="1.2"/>
<path d="M408.4 424.7h8M412.4 420.7v8" stroke="#3cb27a" stroke-width="2.6"/>
<path d="M446.6 402.2h8M450.6 398.2v8" stroke="#3cb27a" stroke-width="2.6"/>
<g fill="#8a8a8a">
<rect x="10" y="446" width="3" height="3"/>
<rect x="14" y="458" width="3" height="3"/>
<rect x="20" y="458" width="3" height="3"/>
<rect x="26" y="456" width="3" height="3"/>
<rect x="28" y="446" width="3" height="3"/>
<rect x="32" y="448" width="3" height="3"/>
<rect x="32" y="454" width="3" height="3"/>
<rect x="38" y="458" width="3" height="3"/>
<rect x="40" y="448" width="3" height="3"/>
<rect x="46" y="460" width="3" height="3"/>
<rect x="50" y="452" width="3" height="3"/>
<rect x="56" y="468" width="3" height="3"/>
<rect x="62" y="460" width="3" height="3"/>
<rect x="66" y="468" width="3" height="3"/>
<rect x="74" y="456" width="3" height="3"/>
<rect x="82" y="454" width="3" height="3"/>
<rect x="84" y="466" width="3" height="3"/>
<rect x="84" y="456" width="3" height="3"/>
<rect x="90" y="462" width="3" height="3"/>
<rect x="106" y="450" width="3" height="3"/>
<rect x="110" y="448" width="3" height="3"/>
<rect x="118" y="440" width="3" height="3"/>
<rect x="132" y="462" width="3" height="3"/>
<rect x="146" y="454" width="3" height="3"/>
<rect x="156" y="464" width="3" height="3"/>
<rect x="164" y="462" width="3" height="3"/>
<rect x="170" y="452" width="3" height="3"/>
<rect x="174" y="458" width="3" height="3"/>
<rect x="178" y="450" width="3" height="3"/>
<rect x="182" y="458" width="3" height="3"/>
<rect x="192" y="464" width="3" height="3"/>
<rect x="196" y="460" width="3" height="3"/>
<rect x="202" y="454" width="3" height="3"/>
<rect x="208" y="474" width="3" height="3"/>
<rect x="222" y="480" width="3" height="3"/>
<rect x="240" y="462" width="3" height="3"/>
<rect x="242" y="458" width="3" height="3"/>
<rect x="254" y="452" width="3" height="3"/>
<rect x="264" y="454" width="3" height="3"/>
<rect x="264" y="458" width="3" height="3"/>
<rect x="268" y="460" width="3" height="3"/>
<rect x="270" y="456" width="3" height="3"/>
<rect x="280" y="434" width="3" height="3"/>
<rect x="284" y="440" width="3" height="3"/>
<rect x="288" y="434" width="3" height="3"/>
<rect x="290" y="442" width="3" height="3"/>
<rect x="294" y="436" width="3" height="3"/>
<rect x="300" y="436" width="3" height="3"/>
<rect x="300" y="446" width="3" height="3"/>
<rect x="302" y="436" width="3" height="3"/>
<rect x="314" y="444" width="3" height="3"/>
<rect x="316" y="440" width="3" height="3"/>
<rect x="320" y="440" width="3" height="3"/>
<rect x="324" y="450" width="3" height="3"/>
<rect x="330" y="442" width="3" height="3"/>
<rect x="334" y="442" width="3" height="3"/>
<rect x="330" y="448" width="3" height="3"/>
<rect x="342" y="444" width="3" height="3"/>
<rect x="348" y="448" width="3" height="3"/>
<rect x="352" y="442" width="3" height="3"/>
<rect x="356" y="448" width="3" height="3"/>
<rect x="364" y="440" width="3" height="3"/>
<rect x="366" y="444" width="3" height="3"/>
<rect x="372" y="432" width="3" height="3"/>
<rect x="376" y="440" width="3" height="3"/>
<rect x="376" y="440" width="3" height="3"/>
<rect x="388" y="440" width="3" height="3"/>
<rect x="390" y="442" width="3" height="3"/>
<rect x="396" y="442" width="3" height="3"/>
<rect x="402" y="414" width="3" height="3"/>
<rect x="406" y="426" width="3" height="3"/>
<rect x="410" y="402" width="3" height="3"/>
<rect x="418" y="400" width="3" height="3"/>
<rect x="420" y="406" width="3" height="3"/>
<rect x="426" y="404" width="3" height="3"/>
<rect x="432" y="404" width="3" height="3"/>
<rect x="446" y="414" width="3" height="3"/>
<rect x="448" y="394" width="3" height="3"/>
</g>
<polyline points="451.1,407.4 569.7,284.8 653.5,345.9 795.5,240.8 892.8,305.9 941.9,271.6 1039.2,345.8 1330.0,132.4" fill="none" stroke="#2962ff" stroke-width="2" stroke-linejoin="miter"/>
<text x="574.1" y="244.2" font-size="15" fill="#e91e63" text-anchor="middle">3</text>
<text x="574.0" y="268.2" font-size="14" fill="#4caf50" text-anchor="middle">(5)</text>
<text x="651.7" y="374.1" font-size="15" fill="#e91e63" text-anchor="middle">4</text>
<text x="799.4" y="194.8" font-size="13" fill="#00bcd4" text-anchor="middle">3</text>
<text x="798.1" y="229.2" font-size="15" fill="#e91e63" text-anchor="middle">5</text>
<text x="924.4" y="253.4" font-size="15" fill="#e91e63" text-anchor="middle">b</text>
<text x="876.0" y="334.7" font-size="15" fill="#e91e63" text-anchor="middle">a</text>
<text x="1021.7" y="374.1" font-size="15" fill="#e91e63" text-anchor="middle">c</text>
<text x="1020.8" y="404.8" font-size="13" fill="#00bcd4" text-anchor="middle">4</text>
<text x="507.1" y="307.7" font-size="14" fill="#4caf50" text-anchor="middle">(3)</text>
<text x="507.7" y="331.4" font-size="12" fill="#f23645" text-anchor="middle">(5)</text>
<text x="468.5" y="349.5" font-size="12" fill="#f23645" text-anchor="middle">(3)</text>
<text x="432.8" y="379.3" font-size="12" fill="#f23645" text-anchor="middle">(1)</text>
<text x="483.7" y="386.4" font-size="12" fill="#f23645" text-anchor="middle">(4)</text>
<text x="537.9" y="365.8" font-size="14" fill="#4caf50" text-anchor="middle">(4)</text>
<text x="402.8" y="402.7" font-size="14" fill="#4caf50" text-anchor="middle">(1)</text>
<text x="418.2" y="445.9" font-size="14" fill="#4caf50" text-anchor="middle">(2)</text>
<text x="454.7" y="433.3" font-size="12" fill="#f23645" text-anchor="middle">(2)</text>
<text x="13.6" y="443.8" font-size="15" fill="#e91e63" text-anchor="middle">3</text>
<text x="124.0" y="426.0" font-size="13" fill="#00bcd4" text-anchor="middle">1</text>
<text x="123.3" y="439.1" font-size="15" fill="#e91e63" text-anchor="middle">5</text>
<text x="50.0" y="494.8" font-size="15" fill="#e91e63" text-anchor="middle">4</text>
<text x="225.0" y="508.5" font-size="15" fill="#e91e63" text-anchor="middle">w</text>
<text x="378.2" y="428.5" font-size="15" fill="#e91e63" text-anchor="middle">1</text>
<text x="404.3" y="471.2" font-size="15" fill="#e91e63" text-anchor="middle">2</text>
<text x="353.9" y="477.8" font-size="15" fill="#e91e63" text-anchor="middle">y</text>
<text x="349.4" y="490.8" font-size="13" fill="#00bcd4" text-anchor="middle">2</text>
<circle cx="451.9" cy="573.4" r="9.6" fill="#fff" stroke="#9c27b0" stroke-width="1.4"/>
<path d="M455.6 567.6l-7.6 6.4h4.2l-3.8 6 8-7h-4.2z" fill="#9c27b0"/>
<circle cx="459.4" cy="566.6" r="3.3" fill="#fff"/><circle cx="459.4" cy="566.6" r="2.3" fill="#f23645"/>
<g transform="translate(471.5 573.4)">
<circle r="10" fill="#fff" stroke="#f23645" stroke-width="1.4"/>
<clipPath id="f471"><circle r="7.8"/></clipPath>
<g clip-path="url(#f471)"><rect x="-8" y="-8" width="16" height="16" fill="#fff"/>
<rect x="-8" y="-7.6" width="16" height="2.6" fill="#ef5350"/><rect x="-8" y="-2.4" width="16" height="3.4" fill="#ef5350"/><rect x="-8" y="4" width="16" height="4" fill="#ef5350"/>
<rect x="-8" y="-8" width="10" height="9" fill="#1e88e5"/>
<g fill="#fff"><rect x="-4.6" y="-5.6" width="1.3" height="1.3"/><rect x="-2.2" y="-5.6" width="1.3" height="1.3"/><rect x="0.2" y="-5.6" width="1.3" height="1.3"/><rect x="-6.2" y="-3" width="1.3" height="1.3"/><rect x="-3.8" y="-3" width="1.3" height="1.3"/><rect x="-1.4" y="-3" width="1.3" height="1.3"/><rect x="-5.4" y="-0.6" width="1.3" height="1.3"/><rect x="-3" y="-0.6" width="1.3" height="1.3"/><rect x="-0.6" y="-0.6" width="1.3" height="1.3"/></g>
</g></g>
<g transform="translate(495.6 573.4)">
<circle r="10" fill="#fff" stroke="#f23645" stroke-width="1.4"/>
<clipPath id="f495"><circle r="7.8"/></clipPath>
<g clip-path="url(#f495)"><rect x="-8" y="-8" width="16" height="16" fill="#fff"/>
<rect x="-8" y="-7.6" width="16" height="2.6" fill="#ef5350"/><rect x="-8" y="-2.4" width="16" height="3.4" fill="#ef5350"/><rect x="-8" y="4" width="16" height="4" fill="#ef5350"/>
<rect x="-8" y="-8" width="10" height="9" fill="#1e88e5"/>
<g fill="#fff"><rect x="-4.6" y="-5.6" width="1.3" height="1.3"/><rect x="-2.2" y="-5.6" width="1.3" height="1.3"/><rect x="0.2" y="-5.6" width="1.3" height="1.3"/><rect x="-6.2" y="-3" width="1.3" height="1.3"/><rect x="-3.8" y="-3" width="1.3" height="1.3"/><rect x="-1.4" y="-3" width="1.3" height="1.3"/><rect x="-5.4" y="-0.6" width="1.3" height="1.3"/><rect x="-3" y="-0.6" width="1.3" height="1.3"/><rect x="-0.6" y="-0.6" width="1.3" height="1.3"/></g>
</g></g>
<g transform="translate(518.4 573.4)">
<circle r="10" fill="#fff" stroke="#f23645" stroke-width="1.4"/>
<clipPath id="f518"><circle r="7.8"/></clipPath>
<g clip-path="url(#f518)"><rect x="-8" y="-8" width="16" height="16" fill="#fff"/>
<rect x="-8" y="-7.6" width="16" height="2.6" fill="#ef5350"/><rect x="-8" y="-2.4" width="16" height="3.4" fill="#ef5350"/><rect x="-8" y="4" width="16" height="4" fill="#ef5350"/>
<rect x="-8" y="-8" width="10" height="9" fill="#1e88e5"/>
<g fill="#fff"><rect x="-4.6" y="-5.6" width="1.3" height="1.3"/><rect x="-2.2" y="-5.6" width="1.3" height="1.3"/><rect x="0.2" y="-5.6" width="1.3" height="1.3"/><rect x="-6.2" y="-3" width="1.3" height="1.3"/><rect x="-3.8" y="-3" width="1.3" height="1.3"/><rect x="-1.4" y="-3" width="1.3" height="1.3"/><rect x="-5.4" y="-0.6" width="1.3" height="1.3"/><rect x="-3" y="-0.6" width="1.3" height="1.3"/><rect x="-0.6" y="-0.6" width="1.3" height="1.3"/></g>
</g></g>
<rect x="228.0" y="608.30" width="224.0" height="6.4" fill="#00ff00"/>
<line x1="14.0" y1="611.50" x2="227.8" y2="611.50" stroke="#ff0000" stroke-width="6.4" stroke-linecap="round"/>
<line x1="7.3" y1="611.50" x2="43.7" y2="611.50" stroke="#000000" stroke-width="6.6" stroke-linecap="round"/>
<line x1="50.5" y1="611.50" x2="56.5" y2="611.50" stroke="#800000" stroke-width="9.0" stroke-linecap="round"/>
<line x1="69.3" y1="611.50" x2="76.7" y2="611.50" stroke="#000000" stroke-width="6.6" stroke-linecap="round"/>
<line x1="82.3" y1="611.50" x2="89.7" y2="611.50" stroke="#000000" stroke-width="6.6" stroke-linecap="round"/>
<line x1="97.5" y1="611.50" x2="103.5" y2="611.50" stroke="#007a00" stroke-width="9.0" stroke-linecap="round"/>
<line x1="111.3" y1="611.50" x2="123.7" y2="611.50" stroke="#000000" stroke-width="6.6" stroke-linecap="round"/>
<line x1="132.5" y1="611.50" x2="135.5" y2="611.50" stroke="#800000" stroke-width="9.0" stroke-linecap="round"/>
<line x1="143.3" y1="611.50" x2="150.7" y2="611.50" stroke="#000000" stroke-width="6.6" stroke-linecap="round"/>
<line x1="156.3" y1="611.50" x2="164.7" y2="611.50" stroke="#000000" stroke-width="6.6" stroke-linecap="round"/>
<line x1="171.8" y1="611.50" x2="171.8" y2="611.50" stroke="#007a00" stroke-width="9.0" stroke-linecap="round"/>
<line x1="178.3" y1="611.50" x2="189.7" y2="611.50" stroke="#000000" stroke-width="6.6" stroke-linecap="round"/>
<line x1="193.5" y1="611.50" x2="193.5" y2="611.50" stroke="#800000" stroke-width="9.0" stroke-linecap="round"/>
<line x1="199.3" y1="611.50" x2="200.7" y2="611.50" stroke="#000000" stroke-width="6.6" stroke-linecap="round"/>
<line x1="207.5" y1="611.50" x2="212.5" y2="611.50" stroke="#800000" stroke-width="9.0" stroke-linecap="round"/>
<line x1="242.3" y1="611.50" x2="252.7" y2="611.50" stroke="#000000" stroke-width="6.6" stroke-linecap="round"/>
<line x1="263.3" y1="611.50" x2="272.7" y2="611.50" stroke="#000000" stroke-width="6.6" stroke-linecap="round"/>
<line x1="280.5" y1="611.50" x2="283.5" y2="611.50" stroke="#007a00" stroke-width="9.0" stroke-linecap="round"/>
<line x1="291.3" y1="611.50" x2="305.7" y2="611.50" stroke="#000000" stroke-width="6.6" stroke-linecap="round"/>
<line x1="314.3" y1="611.50" x2="321.7" y2="611.50" stroke="#000000" stroke-width="6.6" stroke-linecap="round"/>
<line x1="324.0" y1="611.50" x2="324.0" y2="611.50" stroke="#800000" stroke-width="9.0" stroke-linecap="round"/>
<line x1="328.3" y1="611.50" x2="340.7" y2="611.50" stroke="#000000" stroke-width="6.6" stroke-linecap="round"/>
<line x1="347.0" y1="611.50" x2="347.0" y2="611.50" stroke="#800000" stroke-width="9.0" stroke-linecap="round"/>
<line x1="352.3" y1="611.50" x2="358.7" y2="611.50" stroke="#000000" stroke-width="6.6" stroke-linecap="round"/>
<line x1="368.5" y1="611.50" x2="374.5" y2="611.50" stroke="#007a00" stroke-width="9.0" stroke-linecap="round"/>
<line x1="385.3" y1="611.50" x2="395.7" y2="611.50" stroke="#000000" stroke-width="6.6" stroke-linecap="round"/>
<line x1="403.5" y1="611.50" x2="416.5" y2="611.50" stroke="#007a00" stroke-width="9.0" stroke-linecap="round"/>
<line x1="427.3" y1="611.50" x2="443.7" y2="611.50" stroke="#000000" stroke-width="6.6" stroke-linecap="round"/>
<line x1="450.0" y1="611.50" x2="450.0" y2="611.50" stroke="#007a00" stroke-width="9.0" stroke-linecap="round"/>
<rect x="11.0" y="639.00" width="440.5" height="9.0" fill="#ff0000"/>
<line x1="14.5" y1="643.50" x2="14.5" y2="643.50" stroke="#ffee00" stroke-width="9.0" stroke-linecap="round"/>
<line x1="19.5" y1="643.50" x2="40.5" y2="643.50" stroke="#00ff00" stroke-width="9.0" stroke-linecap="round"/>
<line x1="72.5" y1="643.50" x2="75.5" y2="643.50" stroke="#00ff00" stroke-width="9.0" stroke-linecap="round"/>
<line x1="86.5" y1="643.50" x2="122.5" y2="643.50" stroke="#00ff00" stroke-width="9.0" stroke-linecap="round"/>
<line x1="162.5" y1="643.50" x2="179.5" y2="643.50" stroke="#00ff00" stroke-width="9.0" stroke-linecap="round"/>
<line x1="200.5" y1="643.50" x2="204.5" y2="643.50" stroke="#00ff00" stroke-width="9.0" stroke-linecap="round"/>
<line x1="228.5" y1="643.50" x2="240.5" y2="643.50" stroke="#00ff00" stroke-width="9.0" stroke-linecap="round"/>
<line x1="252.5" y1="643.50" x2="265.5" y2="643.50" stroke="#00ff00" stroke-width="9.0" stroke-linecap="round"/>
<line x1="279.5" y1="643.50" x2="295.5" y2="643.50" stroke="#00ff00" stroke-width="9.0" stroke-linecap="round"/>
<line x1="317.5" y1="643.50" x2="318.5" y2="643.50" stroke="#00ff00" stroke-width="9.0" stroke-linecap="round"/>
<line x1="335.5" y1="643.50" x2="337.5" y2="643.50" stroke="#00ff00" stroke-width="9.0" stroke-linecap="round"/>
<line x1="354.5" y1="643.50" x2="384.5" y2="643.50" stroke="#00ff00" stroke-width="9.0" stroke-linecap="round"/>
<line x1="399.5" y1="643.50" x2="438.5" y2="643.50" stroke="#00ff00" stroke-width="9.0" stroke-linecap="round"/>
<line x1="448.5" y1="643.50" x2="451.5" y2="643.50" stroke="#00ff00" stroke-width="9.0" stroke-linecap="round"/>
<rect x="11.0" y="652.00" width="440.5" height="9.0" fill="#000000"/>
<line x1="11.5" y1="656.50" x2="17.5" y2="656.50" stroke="#ff0000" stroke-width="9.0" stroke-linecap="round"/>
<line x1="25.5" y1="656.50" x2="30.5" y2="656.50" stroke="#ff0000" stroke-width="9.0" stroke-linecap="round"/>
<line x1="38.5" y1="656.50" x2="43.5" y2="656.50" stroke="#ff0000" stroke-width="9.0" stroke-linecap="round"/>
<line x1="51.5" y1="656.50" x2="55.5" y2="656.50" stroke="#ff0000" stroke-width="9.0" stroke-linecap="round"/>
<line x1="66.5" y1="656.50" x2="66.5" y2="656.50" stroke="#ff0000" stroke-width="9.0" stroke-linecap="round"/>
<line x1="77.5" y1="656.50" x2="81.5" y2="656.50" stroke="#ff0000" stroke-width="9.0" stroke-linecap="round"/>
<line x1="91.5" y1="656.50" x2="92.5" y2="656.50" stroke="#ff0000" stroke-width="9.0" stroke-linecap="round"/>
<line x1="107.5" y1="656.50" x2="113.5" y2="656.50" stroke="#ff0000" stroke-width="9.0" stroke-linecap="round"/>
<line x1="121.5" y1="656.50" x2="126.5" y2="656.50" stroke="#ff0000" stroke-width="9.0" stroke-linecap="round"/>
<line x1="134.5" y1="656.50" x2="135.5" y2="656.50" stroke="#ff0000" stroke-width="9.0" stroke-linecap="round"/>
<line x1="143.5" y1="656.50" x2="144.5" y2="656.50" stroke="#ff0000" stroke-width="9.0" stroke-linecap="round"/>
<line x1="152.5" y1="656.50" x2="156.5" y2="656.50" stroke="#ff0000" stroke-width="9.0" stroke-linecap="round"/>
<line x1="173.5" y1="656.50" x2="195.5" y2="656.50" stroke="#ff0000" stroke-width="9.0" stroke-linecap="round"/>
<line x1="205.5" y1="656.50" x2="209.5" y2="656.50" stroke="#ff0000" stroke-width="9.0" stroke-linecap="round"/>
<line x1="219.5" y1="656.50" x2="225.5" y2="656.50" stroke="#ff0000" stroke-width="9.0" stroke-linecap="round"/>
<line x1="242.5" y1="656.50" x2="251.5" y2="656.50" stroke="#ff0000" stroke-width="9.0" stroke-linecap="round"/>
<line x1="259.5" y1="656.50" x2="268.5" y2="656.50" stroke="#ff0000" stroke-width="9.0" stroke-linecap="round"/>
<line x1="276.5" y1="656.50" x2="286.5" y2="656.50" stroke="#ff0000" stroke-width="9.0" stroke-linecap="round"/>
<line x1="294.5" y1="656.50" x2="306.5" y2="656.50" stroke="#ff0000" stroke-width="9.0" stroke-linecap="round"/>
<line x1="314.5" y1="656.50" x2="324.5" y2="656.50" stroke="#ff0000" stroke-width="9.0" stroke-linecap="round"/>
<line x1="339.5" y1="656.50" x2="349.5" y2="656.50" stroke="#ff0000" stroke-width="9.0" stroke-linecap="round"/>
<line x1="360.5" y1="656.50" x2="360.5" y2="656.50" stroke="#ff0000" stroke-width="9.0" stroke-linecap="round"/>
<line x1="377.5" y1="656.50" x2="398.5" y2="656.50" stroke="#ff0000" stroke-width="9.0" stroke-linecap="round"/>
<line x1="408.5" y1="656.50" x2="410.5" y2="656.50" stroke="#ff0000" stroke-width="9.0" stroke-linecap="round"/>
<line x1="420.5" y1="656.50" x2="443.5" y2="656.50" stroke="#ff0000" stroke-width="9.0" stroke-linecap="round"/>
<line x1="451.5" y1="656.50" x2="451.5" y2="656.50" stroke="#00ff00" stroke-width="9.0" stroke-linecap="round"/>
<rect x="11.0" y="665.00" width="440.5" height="9.0" fill="#00ff00"/>
<line x1="444.5" y1="669.50" x2="451.5" y2="669.50" stroke="#00ff00" stroke-width="9.0" stroke-linecap="round"/>
<line x1="94.5" y1="669.50" x2="96.5" y2="669.50" stroke="#ffffff" stroke-width="9.0" stroke-linecap="round"/>
<line x1="52.5" y1="669.50" x2="95.5" y2="669.50" stroke="#ff0000" stroke-width="9.0" stroke-linecap="round"/>
<line x1="139.5" y1="669.50" x2="181.5" y2="669.50" stroke="#ff0000" stroke-width="9.0" stroke-linecap="round"/>
<line x1="194.5" y1="669.50" x2="236.5" y2="669.50" stroke="#ff0000" stroke-width="9.0" stroke-linecap="round"/>
<line x1="335.5" y1="669.50" x2="361.5" y2="669.50" stroke="#ff0000" stroke-width="9.0" stroke-linecap="round"/>
<rect x="11.0" y="678.00" width="440.5" height="9.0" fill="#000000"/>
<line x1="11.5" y1="682.50" x2="11.5" y2="682.50" stroke="#00ff00" stroke-width="9.0" stroke-linecap="round"/>
<line x1="20.5" y1="682.50" x2="20.5" y2="682.50" stroke="#00ff00" stroke-width="9.0" stroke-linecap="round"/>
<line x1="29.5" y1="682.50" x2="32.5" y2="682.50" stroke="#00ff00" stroke-width="9.0" stroke-linecap="round"/>
<line x1="46.5" y1="682.50" x2="67.5" y2="682.50" stroke="#ff0000" stroke-width="9.0" stroke-linecap="round"/>
<line x1="81.5" y1="682.50" x2="81.5" y2="682.50" stroke="#ff0000" stroke-width="9.0" stroke-linecap="round"/>
<line x1="87.5" y1="682.50" x2="107.5" y2="682.50" stroke="#00ff00" stroke-width="9.0" stroke-linecap="round"/>
<line x1="128.5" y1="682.50" x2="139.5" y2="682.50" stroke="#ff0000" stroke-width="9.0" stroke-linecap="round"/>
<line x1="153.5" y1="682.50" x2="157.5" y2="682.50" stroke="#ff0000" stroke-width="9.0" stroke-linecap="round"/>
<line x1="168.5" y1="682.50" x2="180.5" y2="682.50" stroke="#00ff00" stroke-width="9.0" stroke-linecap="round"/>
<line x1="192.5" y1="682.50" x2="196.5" y2="682.50" stroke="#ff0000" stroke-width="9.0" stroke-linecap="round"/>
<line x1="212.5" y1="682.50" x2="223.5" y2="682.50" stroke="#ff0000" stroke-width="9.0" stroke-linecap="round"/>
<line x1="203.5" y1="682.50" x2="205.5" y2="682.50" stroke="#00ff00" stroke-width="9.0" stroke-linecap="round"/>
<line x1="232.5" y1="682.50" x2="243.5" y2="682.50" stroke="#00ff00" stroke-width="9.0" stroke-linecap="round"/>
<line x1="254.5" y1="682.50" x2="260.5" y2="682.50" stroke="#00ff00" stroke-width="9.0" stroke-linecap="round"/>
<line x1="276.5" y1="682.50" x2="276.5" y2="682.50" stroke="#ff0000" stroke-width="9.0" stroke-linecap="round"/>
<line x1="280.5" y1="682.50" x2="287.5" y2="682.50" stroke="#00ff00" stroke-width="9.0" stroke-linecap="round"/>
<line x1="309.5" y1="682.50" x2="329.5" y2="682.50" stroke="#ff0000" stroke-width="9.0" stroke-linecap="round"/>
<line x1="341.5" y1="682.50" x2="350.5" y2="682.50" stroke="#ff0000" stroke-width="9.0" stroke-linecap="round"/>
<line x1="356.5" y1="682.50" x2="383.5" y2="682.50" stroke="#00ff00" stroke-width="9.0" stroke-linecap="round"/>
<line x1="394.5" y1="682.50" x2="394.5" y2="682.50" stroke="#ff0000" stroke-width="9.0" stroke-linecap="round"/>
<line x1="401.5" y1="682.50" x2="421.5" y2="682.50" stroke="#00ff00" stroke-width="9.0" stroke-linecap="round"/>
<line x1="443.5" y1="682.50" x2="443.5" y2="682.50" stroke="#ff0000" stroke-width="9.0" stroke-linecap="round"/>
<line x1="450.5" y1="682.50" x2="451.5" y2="682.50" stroke="#00ff00" stroke-width="9.0" stroke-linecap="round"/>
<rect x="11.0" y="691.00" width="440.5" height="9.0" fill="#000000"/>
<line x1="13.5" y1="695.50" x2="17.5" y2="695.50" stroke="#ff0000" stroke-width="9.0" stroke-linecap="round"/>
<line x1="11.0" y1="695.50" x2="11.0" y2="695.50" stroke="#00ff00" stroke-width="9.0" stroke-linecap="round"/>
<line x1="21.5" y1="695.50" x2="21.5" y2="695.50" stroke="#00ff00" stroke-width="9.0" stroke-linecap="round"/>
<line x1="30.5" y1="695.50" x2="33.5" y2="695.50" stroke="#00ff00" stroke-width="9.0" stroke-linecap="round"/>
<line x1="40.5" y1="695.50" x2="58.5" y2="695.50" stroke="#ff0000" stroke-width="9.0" stroke-linecap="round"/>
<line x1="83.0" y1="695.50" x2="83.0" y2="695.50" stroke="#ff0000" stroke-width="9.0" stroke-linecap="round"/>
<line x1="72.5" y1="695.50" x2="77.5" y2="695.50" stroke="#00ff00" stroke-width="9.0" stroke-linecap="round"/>
<line x1="87.5" y1="695.50" x2="106.5" y2="695.50" stroke="#00ff00" stroke-width="9.0" stroke-linecap="round"/>
<line x1="129.5" y1="695.50" x2="137.5" y2="695.50" stroke="#ff0000" stroke-width="9.0" stroke-linecap="round"/>
<line x1="120.5" y1="695.50" x2="123.5" y2="695.50" stroke="#00ff00" stroke-width="9.0" stroke-linecap="round"/>
<line x1="157.0" y1="695.50" x2="157.0" y2="695.50" stroke="#ff0000" stroke-width="9.0" stroke-linecap="round"/>
<line x1="148.5" y1="695.50" x2="151.5" y2="695.50" stroke="#00ff00" stroke-width="9.0" stroke-linecap="round"/>
<line x1="181.5" y1="695.50" x2="194.5" y2="695.50" stroke="#ff0000" stroke-width="9.0" stroke-linecap="round"/>
<line x1="162.5" y1="695.50" x2="174.5" y2="695.50" stroke="#00ff00" stroke-width="9.0" stroke-linecap="round"/>
<line x1="212.5" y1="695.50" x2="213.5" y2="695.50" stroke="#ff0000" stroke-width="9.0" stroke-linecap="round"/>
<line x1="201.5" y1="695.50" x2="205.5" y2="695.50" stroke="#00ff00" stroke-width="9.0" stroke-linecap="round"/>
<line x1="229.5" y1="695.50" x2="236.5" y2="695.50" stroke="#00ff00" stroke-width="9.0" stroke-linecap="round"/>
<line x1="249.0" y1="695.50" x2="249.0" y2="695.50" stroke="#ff0000" stroke-width="9.0" stroke-linecap="round"/>
<line x1="269.5" y1="695.50" x2="273.5" y2="695.50" stroke="#ff0000" stroke-width="9.0" stroke-linecap="round"/>
<line x1="255.5" y1="695.50" x2="262.5" y2="695.50" stroke="#00ff00" stroke-width="9.0" stroke-linecap="round"/>
<line x1="293.5" y1="695.50" x2="310.5" y2="695.50" stroke="#ff0000" stroke-width="9.0" stroke-linecap="round"/>
<line x1="280.5" y1="695.50" x2="286.5" y2="695.50" stroke="#00ff00" stroke-width="9.0" stroke-linecap="round"/>
<line x1="328.5" y1="695.50" x2="329.5" y2="695.50" stroke="#ff0000" stroke-width="9.0" stroke-linecap="round"/>
<line x1="317.5" y1="695.50" x2="321.5" y2="695.50" stroke="#00ff00" stroke-width="9.0" stroke-linecap="round"/>
<line x1="347.5" y1="695.50" x2="348.5" y2="695.50" stroke="#ff0000" stroke-width="9.0" stroke-linecap="round"/>
<line x1="336.5" y1="695.50" x2="340.5" y2="695.50" stroke="#00ff00" stroke-width="9.0" stroke-linecap="round"/>
<line x1="390.5" y1="695.50" x2="394.5" y2="695.50" stroke="#ff0000" stroke-width="9.0" stroke-linecap="round"/>
<line x1="355.5" y1="695.50" x2="383.5" y2="695.50" stroke="#00ff00" stroke-width="9.0" stroke-linecap="round"/>
<line x1="401.5" y1="695.50" x2="418.5" y2="695.50" stroke="#00ff00" stroke-width="9.0" stroke-linecap="round"/>
<line x1="444.5" y1="695.50" x2="444.5" y2="695.50" stroke="#ff0000" stroke-width="9.0" stroke-linecap="round"/>
<line x1="438.5" y1="695.50" x2="438.5" y2="695.50" stroke="#00ff00" stroke-width="9.0" stroke-linecap="round"/>
<line x1="450.5" y1="695.50" x2="451.5" y2="695.50" stroke="#00ff00" stroke-width="9.0" stroke-linecap="round"/>
<rect x="11.0" y="704.00" width="440.5" height="9.0" fill="#00ff00"/>
<line x1="46.5" y1="708.50" x2="47.5" y2="708.50" stroke="#000000" stroke-width="9.0" stroke-linecap="round"/>
<line x1="48.5" y1="708.50" x2="83.5" y2="708.50" stroke="#ff0000" stroke-width="9.0" stroke-linecap="round"/>
<line x1="87.5" y1="708.50" x2="88.5" y2="708.50" stroke="#ffee00" stroke-width="9.0" stroke-linecap="round"/>
<line x1="128.5" y1="708.50" x2="129.5" y2="708.50" stroke="#000000" stroke-width="9.0" stroke-linecap="round"/>
<line x1="130.5" y1="708.50" x2="163.5" y2="708.50" stroke="#ff0000" stroke-width="9.0" stroke-linecap="round"/>
<line x1="168.5" y1="708.50" x2="169.5" y2="708.50" stroke="#ffee00" stroke-width="9.0" stroke-linecap="round"/>
<line x1="191.5" y1="708.50" x2="192.5" y2="708.50" stroke="#000000" stroke-width="9.0" stroke-linecap="round"/>
<line x1="193.5" y1="708.50" x2="225.5" y2="708.50" stroke="#ff0000" stroke-width="9.0" stroke-linecap="round"/>
<line x1="203.5" y1="708.50" x2="205.5" y2="708.50" stroke="#ffee00" stroke-width="9.0" stroke-linecap="round"/>
<line x1="231.5" y1="708.50" x2="233.5" y2="708.50" stroke="#ffee00" stroke-width="9.0" stroke-linecap="round"/>
<line x1="279.5" y1="708.50" x2="280.5" y2="708.50" stroke="#007a00" stroke-width="9.0" stroke-linecap="round"/>
<line x1="277.5" y1="708.50" x2="278.5" y2="708.50" stroke="#000000" stroke-width="9.0" stroke-linecap="round"/>
<line x1="308.5" y1="708.50" x2="309.5" y2="708.50" stroke="#000000" stroke-width="9.0" stroke-linecap="round"/>
<line x1="311.5" y1="708.50" x2="351.5" y2="708.50" stroke="#ff0000" stroke-width="9.0" stroke-linecap="round"/>
<line x1="356.5" y1="708.50" x2="358.5" y2="708.50" stroke="#ffee00" stroke-width="9.0" stroke-linecap="round"/>
<line x1="392.5" y1="708.50" x2="393.5" y2="708.50" stroke="#000000" stroke-width="9.0" stroke-linecap="round"/>
<line x1="395.5" y1="708.50" x2="396.5" y2="708.50" stroke="#ff0000" stroke-width="9.0" stroke-linecap="round"/>
<line x1="401.5" y1="708.50" x2="401.5" y2="708.50" stroke="#ffee00" stroke-width="9.0" stroke-linecap="round"/>
<line x1="443.5" y1="708.50" x2="444.5" y2="708.50" stroke="#000000" stroke-width="9.0" stroke-linecap="round"/>
<line x1="446.5" y1="708.50" x2="447.5" y2="708.50" stroke="#ff0000" stroke-width="9.0" stroke-linecap="round"/>
<line x1="450.5" y1="708.50" x2="451.5" y2="708.50" stroke="#ffee00" stroke-width="9.0" stroke-linecap="round"/>
<rect x="10" y="741" width="1304" height="32.8" fill="#f1eefa"/>
<line x1="10.2" y1="741.5" x2="1314" y2="741.5" stroke="#787b86" stroke-width="1" stroke-dasharray="5 6"/>
<line x1="10.2" y1="757.5" x2="1314" y2="757.5" stroke="#b9bbc3" stroke-width="1" stroke-dasharray="5 6"/>
<line x1="10.2" y1="773.5" x2="1314" y2="773.5" stroke="#787b86" stroke-width="1" stroke-dasharray="5 6"/>
<polyline points="10.4,743.5 11.3,750.5 13.1,754.0 14.8,757.4 16.0,749.6 18.3,748.7 19.5,754.0 21.2,758.3 23.5,753.1 25.8,749.6 27.5,745.8 28.7,750.5 31.0,752.2 33.1,754.8 34.5,750.5 36.6,755.7 38.0,760.9 39.7,752.2 41.8,755.7 44.4,760.1 47.0,762.7 49.1,765.6 50.5,759.2 51.9,771.4 53.6,763.5 55.4,766.7 57.5,761.8 60.1,764.9 62.7,763.2 65.8,767.0 68.3,760.9 70.0,757.4 72.3,755.7 74.0,753.4 75.8,757.4 78.4,760.9 81.0,762.7 82.7,758.3 84.1,763.5 85.3,751.3 87.1,753.1 88.8,755.7 91.4,753.1 93.2,754.0 94.4,746.1 96.7,745.3 98.4,741.8 100.1,738.3 101.9,734.8 103.6,733.1 105.4,735.7 106.6,741.8 108.9,743.5 111.5,744.4 114.1,745.3 116.3,744.4 118.4,740.0 119.7,737.4 120.5,747.9 122.8,752.2 124.5,757.4 125.7,765.3 127.5,760.1 129.8,763.5 131.5,772.2 133.2,768.8 135.0,766.7 137.6,767.9 140.2,767.0 142.5,767.4 144.2,768.8 146.3,761.8 148.0,763.5 149.4,760.9 151.2,766.2 152.9,771.4 154.7,768.8 156.4,772.2 157.6,760.9 159.9,758.3 162.0,756.6 164.1,757.4 165.1,762.7 166.8,752.2 168.9,750.5 170.7,749.6 172.4,752.2 175.0,751.3 177.3,753.1 179.0,749.6 180.3,755.7 182.5,759.2 184.6,757.4 187.2,758.3 189.8,754.8 191.6,763.5 193.3,762.7 195.9,763.5 197.7,755.7 200.3,752.2 202.9,754.0 204.6,757.4 206.0,770.5 207.6,778.3 209.9,779.2 211.6,774.0 214.2,773.1 216.0,776.6 218.6,778.3 221.2,777.5 223.8,781.0 225.5,778.3 227.3,754.8 228.5,745.3 230.8,743.5 233.4,742.6 235.0,740.9 237.6,741.8 240.2,744.4 242.8,746.1 245.4,747.0 247.5,752.2 248.9,757.4 250.0,766.7 251.0,752.2 252.4,746.1 254.5,741.8 256.2,744.4 258.5,745.3 261.1,744.4 263.2,746.1 265.0,745.3 266.7,748.7 269.0,752.2 270.7,754.8 273.0,754.8 275.1,756.6 276.5,761.8 277.0,768.4 277.8,754.8 278.5,733.9 280.6,732.5 282.4,733.1 283.8,737.4 285.9,739.2 288.1,738.3 289.3,746.1 291.6,747.0 293.3,743.5 295.1,741.8 296.8,748.7 298.6,752.2 300.8,754.0 302.6,750.5 304.3,754.0 306.4,757.4 308.1,761.8 310.2,761.8 311.6,767.4 312.7,754.8 314.8,754.0 316.9,750.5 318.6,754.8 320.3,757.4 322.1,764.4 324.7,764.9 326.4,759.2 328.7,756.6 330.8,760.1 332.5,757.4 335.1,754.0 336.9,757.4 339.2,760.9 341.2,763.5 343.0,765.6 345.1,768.8 347.3,773.1 349.1,768.8 350.8,767.9 352.0,758.3 353.8,750.5 355.5,753.1 357.8,752.2 360.1,748.7 362.5,745.3 364.8,746.1 366.5,743.5 368.8,739.2 370.5,740.9 372.9,737.4 374.3,744.4 376.9,743.5 379.2,740.9 381.3,740.6 383.0,745.3 384.8,748.7 386.9,754.0 388.3,759.7 390.4,754.8 392.1,759.2 393.8,752.2 395.6,759.2 397.8,756.6 399.6,747.9 401.3,738.3 403.1,731.8 404.8,739.2 407.1,744.4 409.2,742.6 411.3,733.9 413.5,733.6 416.1,732.5 419.3,731.8 420.0,738.3 422.2,737.4 424.5,738.8 426.6,737.4 428.7,740.9 430.1,745.3 432.2,741.8 434.4,743.5 436.7,741.8 438.4,747.0 439.8,754.8 441.0,764.4 442.3,757.4 443.6,752.7 445.4,758.7 447.1,748.7 449.2,747.0 451.8,746.1" fill="none" stroke="#7e57c2" stroke-width="1.1" stroke-linejoin="round"/>
<polyline points="10.4,742.6 15.7,746.1 20.9,750.5 24.4,753.1 29.6,751.3 34.8,751.9 40.1,752.2 45.3,755.7 50.5,759.2 55.7,762.7 61.0,764.9 66.2,765.6 71.4,763.2 76.6,760.9 81.9,759.2 87.1,758.0 92.3,756.6 97.5,752.2 102.8,745.3 106.2,741.2 110.6,739.5 114.9,740.0 120.2,743.5 125.4,747.9 130.6,754.8 135.0,762.7 139.3,766.2 143.7,767.4 148.0,766.2 152.4,766.7 155.9,767.0 160.2,764.9 164.6,762.7 168.9,759.2 174.2,754.8 179.4,753.1 184.6,754.8 189.8,756.6 195.1,759.2 200.3,758.7 204.6,759.2 209.0,765.3 214.2,771.4 218.6,775.7 222.9,777.1 226.4,777.1 229.9,770.5 234.3,759.2 237.6,749.6 241.1,744.4 244.6,743.5 248.1,745.3 251.5,748.7 255.9,749.3 261.1,748.7 265.5,746.1 269.8,748.7 274.2,751.3 277.7,753.4 281.2,750.5 284.6,746.1 289.0,741.2 293.3,738.8 296.0,741.8 299.4,746.1 303.8,750.5 308.1,754.0 312.5,756.6 317.7,756.9 323.0,758.3 328.2,758.7 333.4,760.4 338.6,759.2 343.9,760.9 348.2,763.5 351.7,765.6 356.0,762.7 360.4,757.4 364.8,752.2 369.1,747.9 373.5,744.4 377.8,742.6 381.3,741.8 385.7,744.4 390.0,748.7 394.4,753.1 397.8,755.7 401.3,754.8 405.7,749.6 410.0,743.5 413.5,738.8 417.9,737.4 422.2,736.5 425.7,735.7 429.2,737.1 432.7,739.5 436.2,741.8 439.6,745.3 443.1,748.7 446.6,751.3 451.8,752.7" fill="none" stroke="#f5c938" stroke-width="1.1" stroke-linejoin="round"/>
</g>
<g fill="#111"><path d="M11.9 838.9H24V854.1H17.7V845.4H11.9Z"/><circle cx="28.6" cy="841.8" r="2.7"/><path d="M33.9 838.9H42.1L35.7 854.1H29.1Z"/></g>
<text id="logo" x="49" y="854.1" font-size="21.5" font-weight="bold" fill="#111" textLength="121" lengthAdjust="spacingAndGlyphs">TradingView</text>
</svg>
</body></html>
